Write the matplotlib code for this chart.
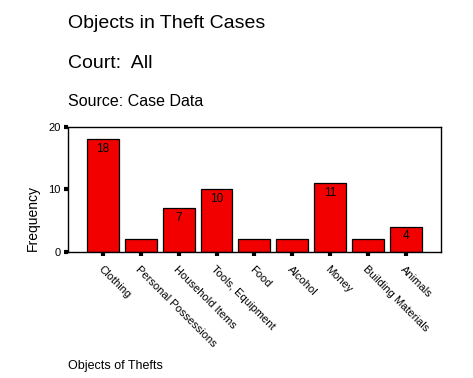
#!/usr/bin/env python3
"""Bar chart: objects in theft cases."""

import matplotlib

matplotlib.use('Agg')
import matplotlib.pyplot as plt

categories = ['Clothing', 'Personal Possessions', 'Household Items',
              'Tools, Equipment', 'Food', 'Alcohol', 'Money',
              'Building Materials', 'Animals']
counts = [18, 2, 7, 10, 2, 2, 11, 2, 4]
labelled = [True, False, True, True, False, False, True, False, True]
yticks = [0, 10, 20]

plt.rcParams['font.family'] = ['Liberation Sans', 'DejaVu Sans']

W, H = 473, 378
fig = plt.figure(figsize=(W / 100, H / 100), dpi=100)
ax = fig.add_axes([67.5 / W, 1 - 251.5 / H, 373 / W, 124.5 / H])

x = list(range(len(categories)))
bars = ax.bar(x, counts, width=0.84, color='#f20000', edgecolor='black', linewidth=0.9)
for b, c, show in zip(bars, counts, labelled):
    if show:
        ax.text(b.get_x() + b.get_width() / 2, c - 0.6, str(c), ha='center', va='top',
                fontsize=8.5)

ax.set_xlim(-0.94, 8.92)
ax.set_ylim(0, 20)
ax.set_yticks(yticks)
ax.set_yticklabels([str(v) for v in yticks], fontsize=8)
ax.set_xticks(x)
ax.set_xticklabels(categories, rotation=-45, ha='left', va='top',
                   rotation_mode='anchor', fontsize=8)
ax.tick_params(axis='x', length=3, width=3, direction='out', pad=6)
ax.tick_params(axis='y', length=3, width=3, direction='out', pad=2)
for s in ax.spines.values():
    s.set_linewidth(1)

fig.text(68 / W, 1 - 24 / H, 'Objects in Theft Cases', fontsize=14, va='center')
fig.text(68 / W, 1 - 64 / H, 'Court:  All', fontsize=14, va='center')
fig.text(68 / W, 1 - 102 / H, 'Source: Case Data', fontsize=11.5, va='center')
fig.text(33 / W, 1 - 218 / H, 'Frequency', fontsize=10, rotation=90,
         ha='center', va='center')
fig.text(68 / W, 1 - 366 / H, 'Objects of Thefts', fontsize=9, va='center')

fig.savefig('out.png', dpi=100)
